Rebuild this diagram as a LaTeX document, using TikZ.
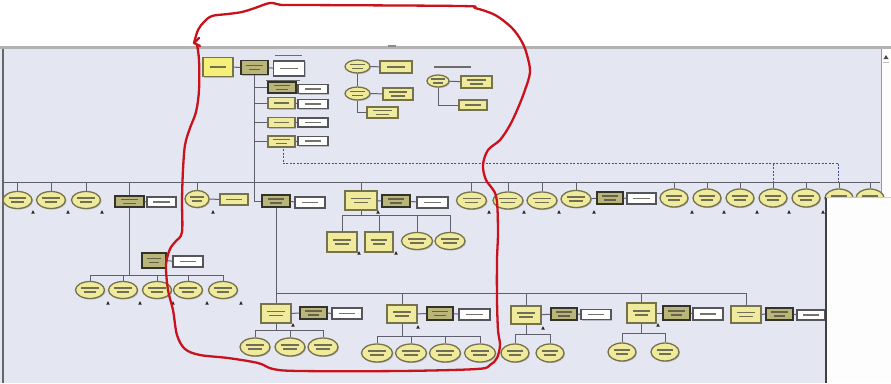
\documentclass[tikz,border=0pt]{standalone}
\usetikzlibrary{shapes.geometric,shadows,calc}
\definecolor{bgc}{HTML}{E4E6F1}
\definecolor{ylw}{HTML}{F0EB9C}
\definecolor{ylwb}{HTML}{F5F07A}
\definecolor{olv}{HTML}{76734C}
\definecolor{dkf}{HTML}{BAB67A}
\definecolor{dkl}{HTML}{34332A}
\definecolor{wln}{HTML}{55555C}
\definecolor{cn}{HTML}{5F606C}
\definecolor{pen}{HTML}{C8121C}
\definecolor{txg}{HTML}{46463C}
\newcommand{\nd}[5]{\node[#1,minimum width=#4pt,minimum height=#5pt] (#2) at (#3) {};}
\tikzset{
  tbar/.style={txg, line width=1.4pt, opacity=.75},
  txtone/.style={path picture={\draw[tbar]
      ($(path picture bounding box.west)!0.22!(path picture bounding box.east)$) --
      ($(path picture bounding box.west)!0.78!(path picture bounding box.east)$);}},
  txttwo/.style={path picture={\draw[tbar]
      ($(path picture bounding box.west)!0.2!(path picture bounding box.east)+(0,2pt)$) --
      ($(path picture bounding box.west)!0.8!(path picture bounding box.east)+(0,2pt)$);
      \draw[tbar]
      ($(path picture bounding box.west)!0.28!(path picture bounding box.east)+(0,-2pt)$) --
      ($(path picture bounding box.west)!0.72!(path picture bounding box.east)+(0,-2pt)$);}},
  shd/.style={drop shadow={shadow xshift=1pt, shadow yshift=-1pt, opacity=.35, fill=black!60}},
  yb/.style={draw=olv, fill=ylw, line width=1.3pt, inner sep=0, shd, txtone},
  ybs/.style={draw=olv, fill=ylw, line width=1.3pt, inner sep=0, shd, txttwo},
  ybr/.style={draw=olv, fill=ylwb, line width=1.3pt, inner sep=0, shd, txtone},
  db/.style={draw=dkl, fill=dkf, line width=1.4pt, inner sep=0, shd, txttwo},
  wb/.style={draw=wln, fill=white, line width=1.2pt, inner sep=0, shd, txtone},
  el/.style={ellipse, draw=olv, fill=ylw, line width=1.3pt, inner sep=0, shd, txttwo},
  conn/.style={cn, line width=1pt},
  dconn/.style={cn!80!blue, line width=0.8pt, dash pattern=on 2pt off 1.5pt},
  tickmk/.pic={\fill[black!85] (-1.8,1.6) -- (1.8,1.6) -- (0,-1.8) -- cycle;},
  penline/.style={pen, line width=2.3pt, line cap=round, line join=round}
}
\begin{document}
\begin{tikzpicture}[x=1pt,y=-1pt]
\useasboundingbox (0,0) rectangle (891,383);
% window frame
\fill[white] (0,0) rectangle (891,383);
\fill[bgc] (0,48) rectangle (891,383);
\fill[black!30] (0,45.5) rectangle (891,48.5);
\fill[black!45] (388,44.5) rectangle (396,47);
\draw[black!60, line width=1.2pt] (3,48.5) -- (3,383);
\fill[white!92!bgc] (881,48.5) rectangle (891,197);
\draw[black!40, line width=0.8pt] (881,48.5) -- (881,197);
\fill[black!70] (883.5,59) -- (888.5,59) -- (886,55) -- cycle;
\fill[black!25] (883,62) rectangle (889,63);

% top cluster
\nd{ybr}{root}{218,67}{30}{19}
\nd{db}{nb}{254.5,67.5}{27}{14}
\nd{wb}{nc}{289,68.5}{31}{15}
\draw[tbar] (275,55.5) -- (302,55.5);
\draw[conn] (root) -- (nb);
\draw[conn] (nb) -- (nc);
\nd{db}{ra}{282,87.5}{28}{11}
\nd{wb}{raw}{313,89}{30}{9}
\draw[tbar] (266,80.5) -- (300,80.5);
\nd{yb}{rb}{281.5,103}{27}{11}
\nd{wb}{rbw}{313,104}{30}{9}
\nd{yb}{rc}{281.5,122.5}{27}{10}
\nd{wb}{rcw}{313,122.5}{30}{9}
\nd{ybs}{rd}{281.5,141.5}{27}{11}
\nd{wb}{rdw}{313,141}{30}{9}
\foreach \r in {ra,rb,rc,rd}{
  \draw[conn] (nb.south |- \r.west) -- (\r.west);
  \draw[conn] (\r.east) -- (\r.east -| \r w.west);
}
\coordinate (dstart) at (283,149);
\coordinate (dcorner) at (283,163.5);
\coordinate (dend) at (838,163.5);
\draw[dconn] (dstart) -- (dcorner) -- (dend);
\draw[dconn] (773,163.5) -- (773,182);
\draw[dconn] (dend) -- (838,182);

% second cluster
\nd{el}{ea}{357.5,66.5}{25}{13}
\nd{yb}{ba}{396,67}{32}{12}
\nd{el}{eb}{357.5,93.5}{25}{13}
\nd{ybs}{bb}{398,94}{30}{12}
\nd{ybs}{bc}{382.5,112.5}{31}{11}
\draw[conn] (ea) -- (ba);
\draw[conn] (eb) -- (bb);
\draw[conn] (ea) -- (eb);
\draw[conn] (eb.south) -- (eb.south |- bc.west) -- (bc.west);

% third cluster
\draw[tbar] (434,67) -- (471,67);
\nd{el}{ec}{438,81}{22}{12}
\nd{ybs}{bd}{476.5,82}{31}{12}
\nd{yb}{be}{473,105}{28}{10}
\draw[conn] (ec) -- (bd);
\draw[conn] (ec.south) -- (ec.south |- be.west) -- (be.west);

% main row
\coordinate (busL) at (3,182);
\coordinate (busR) at (880,182);
\draw[conn] (busL) -- (busR);
\nd{el}{pa}{17.5,200}{29}{17}
\nd{el}{pb}{51,200}{29}{17}
\nd{el}{pc}{86,200}{29}{17}
\nd{db}{pd}{129.5,201.5}{29}{11}
\nd{wb}{pe}{161.5,202}{29}{10}
\nd{el}{pf}{197,199}{24}{17}
\nd{yb}{pg}{234,199.5}{28}{11}
\nd{db}{ph}{276,201}{28}{12}
\nd{wb}{pi}{310,202.5}{30}{11}
\nd{ybs}{pm}{361,200.5}{32}{19}
\nd{db}{pn}{396,201}{28}{12}
\nd{wb}{po}{432.5,202.5}{31}{11}
\nd{el}{q1}{471.5,200.5}{30}{17}
\nd{el}{q2}{508,200.5}{30}{17}
\nd{el}{q3}{542,200.5}{30}{17}
\nd{el}{q4}{576,199}{30}{17}
\nd{db}{qk}{610,198}{26}{12}
\nd{wb}{qw}{641.5,198.5}{29}{11}
\nd{el}{s1}{674,198}{28}{18}
\nd{el}{s2}{707,198}{28}{18}
\nd{el}{s3}{740,198}{28}{18}
\nd{el}{s4}{773,198}{28}{18}
\nd{el}{s5}{806,198}{28}{18}
\nd{el}{s6}{839,198}{28}{18}
\nd{el}{s7}{870,198}{28}{18}
\foreach \n in {pa,pb,pc,pd,pf,pm,q1,q2,q3,q4,s1,s2,s3,s4,s5,s6,s7}{
  \draw[conn] (\n.north |- busL) -- (\n.north);
}
\draw[conn] (pd) -- (pe);
\draw[conn] (pf) -- (pg);
\draw[conn] (nb.south) -- (nb.south |- ph.west) -- (ph.west);
\draw[conn] (ph) -- (pi);
\draw[conn] (pm) -- (pn);
\draw[conn] (pn) -- (po);
\draw[conn] (q4) -- (qk);
\draw[conn] (qk) -- (qw);
\foreach \x in {33,68,102,213,378,489,524,559,594,692,724,757,789,823}{
  \pic at (\x,212) {tickmk};
}

% branch below the first stacked box
\coordinate (lbL) at (90,275);
\coordinate (lbR) at (223,275);
\draw[conn] (pd.south) -- (pd.south |- lbL);
\draw[conn] (lbL) -- (lbR);
\nd{db}{lj}{154,260.5}{24}{15}
\nd{wb}{lk}{188,261.5}{30}{11}
\draw[conn] (lj) -- (lk);
\nd{el}{l1}{90,290}{29}{17}
\nd{el}{l2}{123,290}{29}{17}
\nd{el}{l3}{157,290}{29}{17}
\nd{el}{l4}{188,290}{29}{17}
\nd{el}{l5}{223,290}{29}{17}
\foreach \n in {l1,l2,l3,l4,l5}{ \draw[conn] (\n.north |- lbL) -- (\n.north); }
\foreach \x in {108,140,173,207,241}{ \pic at (\x,303) {tickmk}; }

% children of the large stacked box
\coordinate (mbL) at (342,215);
\coordinate (mbR) at (450,215);
\draw[conn] (pm.south) -- (pm.south |- mbL);
\draw[conn] (mbL) -- (mbR);
\nd{ybs}{mp}{342,242}{30}{20}
\nd{ybs}{mq}{379,242}{28}{20}
\nd{el}{mr}{417,241}{31}{17}
\nd{el}{ms}{450,241}{30}{17}
\foreach \n in {mp,mq,mr,ms}{ \draw[conn] (\n.north |- mbL) -- (\n.north); }
\pic at (359,253) {tickmk};
\pic at (396,253) {tickmk};

% lower row
\coordinate (bbL) at (276,293);
\coordinate (bbR) at (747,293);
\draw[conn] (ph.south) -- (bbL);
\draw[conn] (bbL) -- (bbR);
\nd{ybs}{ta}{276,313.5}{30}{19}
\nd{db}{tb}{313.5,313}{27}{12}
\nd{wb}{tc}{347,313.5}{30}{11}
\nd{ybs}{wa}{402,314}{30}{18}
\nd{db}{wbx}{440,313.5}{26}{13}
\nd{wb}{wc}{474.5,314.5}{31}{11}
\nd{ybs}{za}{526,315}{30}{18}
\nd{db}{zb}{564,314}{26}{12}
\nd{wb}{zc}{596,314.5}{30}{10}
\nd{ybs}{ya}{641.5,313}{29}{20}
\nd{db}{yb2}{676.5,313}{27}{14}
\nd{wb}{yc}{708,314}{30}{12}
\nd{ybs}{xa}{746,314.5}{30}{17}
\nd{db}{xb}{779.5,314}{27}{12}
\nd{wb}{xc}{811,315}{28}{10}
\foreach \n in {ta,wa,za,ya,xa}{ \draw[conn] (\n.north |- bbL) -- (\n.north); }
\draw[conn] (ta) -- (tb); \draw[conn] (tb) -- (tc);
\draw[conn] (wa) -- (wbx); \draw[conn] (wbx) -- (wc);
\draw[conn] (za) -- (zb); \draw[conn] (zb) -- (zc);
\draw[conn] (ya) -- (yb2); \draw[conn] (yb2) -- (yc);
\draw[conn] (xa) -- (xb); \draw[conn] (xb) -- (xc);
\foreach \p in {(293,325),(418,327),(543,328),(658,325)}{ \pic at \p {tickmk}; }

% leaves of the lower row
\coordinate (tsL) at (255,330);
\coordinate (tsR) at (323,330);
\draw[conn] (ta.south) -- (ta.south |- tsL);
\draw[conn] (tsL) -- (tsR);
\nd{el}{t1}{255,347}{30}{18}
\nd{el}{t2}{290,347}{30}{18}
\nd{el}{t3}{323,347}{30}{18}
\foreach \n in {t1,t2,t3}{ \draw[conn] (\n.north |- tsL) -- (\n.north); }

\coordinate (wsL) at (377,336);
\coordinate (wsR) at (480,336);
\draw[conn] (wa.south) -- (wa.south |- wsL);
\draw[conn] (wsL) -- (wsR);
\nd{el}{w1}{377,353}{31}{18}
\nd{el}{w2}{411,353}{31}{18}
\nd{el}{w3}{445,353}{31}{18}
\nd{el}{w4}{480,353}{31}{18}
\foreach \n in {w1,w2,w3,w4}{ \draw[conn] (\n.north |- wsL) -- (\n.north); }

\coordinate (zsL) at (515,334);
\coordinate (zsR) at (550,334);
\draw[conn] (za.south) -- (za.south |- zsL);
\draw[conn] (zsL) -- (zsR);
\nd{el}{z1}{515,353}{28}{18}
\nd{el}{z2}{550,353}{28}{18}
\foreach \n in {z1,z2}{ \draw[conn] (\n.north |- zsL) -- (\n.north); }

\coordinate (ysL) at (622,333);
\coordinate (ysR) at (665,333);
\draw[conn] (ya.south) -- (ya.south |- ysL);
\draw[conn] (ysL) -- (ysR);
\nd{el}{y1}{622,352}{28}{18}
\nd{el}{y2}{665,352}{28}{18}
\foreach \n in {y1,y2}{ \draw[conn] (\n.north |- ysL) -- (\n.north); }

% side panel
\fill[white!94!bgc] (826,197) rectangle (891,383);
\draw[black!75, line width=1.3pt] (826,197) -- (826,383);
\draw[black!20, line width=0.6pt] (826,197) -- (891,197);

% hand-drawn red outline
\draw[penline] plot[smooth, tension=0.55] coordinates {
 (194,43) (198,30) (204,22) (212,16) (228,14) (242,12) (255,8) (270,3) (282,5)
 (300,5) (460,6) (475,8) (495,15) (512,28) (522,42) (527,55) (530,72) (525,90)
 (518,108) (510,125) (500,140) (488,150) (483,165) (486,180) (496,196) (498,230)
 (497,260) (497,300) (498,330) (500,345) (497,358) (490,365) (477,369) (400,371)
 (300,371) (273,369) (258,363) (228,358) (200,355) (185,349) (177,335) (173,310)
 (168,290) (166,265) (170,249) (176,241) (182,232) (182,200) (183,170) (185,145)
 (190,128) (196,112) (199,90) (199,60) (197,45)};
\draw[penline] (199,38) -- (194,43) -- (200,46);
\end{tikzpicture}
\end{document}
